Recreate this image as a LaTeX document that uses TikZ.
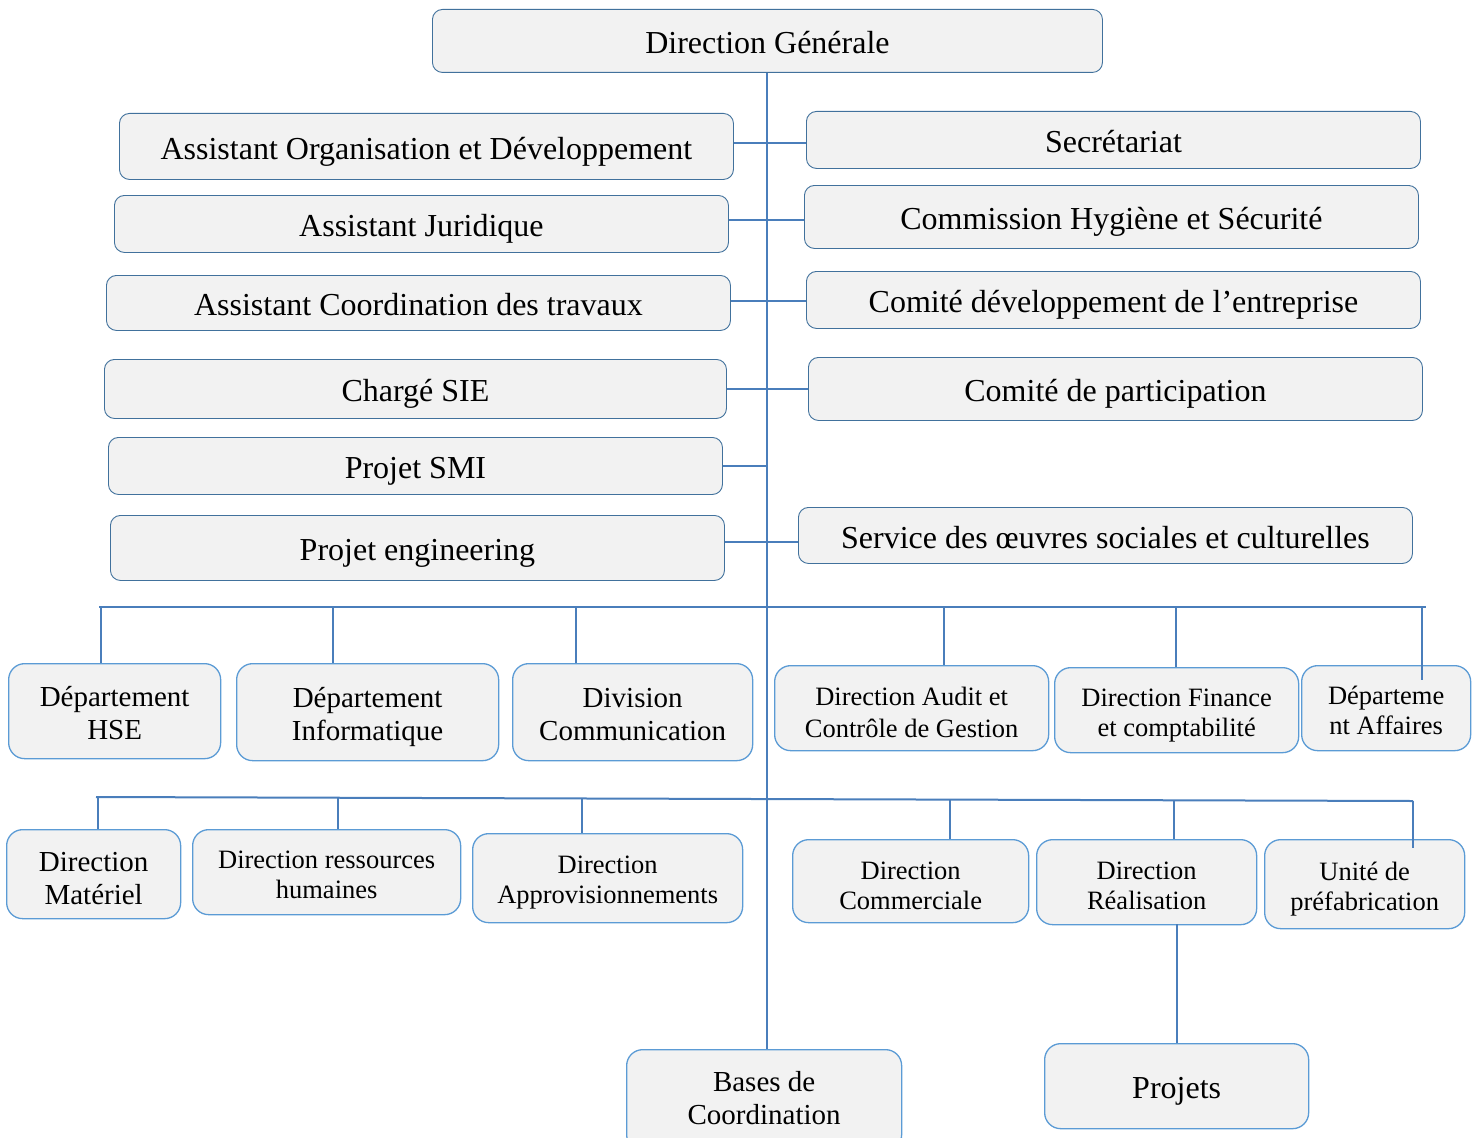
\documentclass[tikz,border=0pt]{standalone}
\usepackage{fontspec}
\setmainfont{Liberation Serif}
\usetikzlibrary{calc}
\definecolor{boxfill}{HTML}{F2F2F2}
\definecolor{topedge}{HTML}{41719C}
\definecolor{lowedge}{HTML}{5B9BD5}
\definecolor{wirecol}{HTML}{4A7EBB}

% \orgbox{name}{style}{left}{top}{right}{bottom}{text}
\newcommand\orgbox[7]{%
  \node[#2, minimum width={#5pt-#3pt}, minimum height={#6pt-#4pt}] (#1) at (#3,#4) {#7};}

\begin{document}
\begin{tikzpicture}[x=1pt,y=-1pt,
  unit/.style={draw, fill=boxfill, inner sep=0pt, anchor=north west, align=center, text=black},
  topbox/.style={unit, draw=topedge, line width=0.9pt, rounded corners=10pt,
    font=\fontsize{32}{38}\selectfont, text height=26pt, text depth=0pt},
  lowbox/.style={unit, draw=lowedge, line width=1.3pt, rounded corners=16pt,
    font=\fontsize{26.5}{30}\selectfont, text height=53pt, text depth=0pt},
  bigbox/.style={lowbox, font=\fontsize{29}{33}\selectfont, text height=57pt},
  wire/.style={draw=wirecol, line width=2pt}]

\useasboundingbox (0,0) rectangle (1474,1137);
\clip (0,0) rectangle (1474,1137);

% General management
\orgbox{dg}{topbox}{432}{9}{1102}{72}{Direction Générale}

% Staff positions, left side
\orgbox{aod}{topbox}{119}{113}{733}{179}{Assistant Organisation et Développement}
\orgbox{aj}{topbox}{114}{195}{728}{252}{Assistant Juridique}
\orgbox{act}{topbox}{106}{275}{730}{330}{Assistant Coordination des travaux}
\orgbox{sie}{topbox}{104}{359}{726}{418}{Chargé SIE}
\orgbox{smi}{topbox}{108}{437}{722}{494}{Projet SMI}
\orgbox{pe}{topbox}{110}{515}{724}{580}{Projet engineering}

% Staff positions, right side
\orgbox{sec}{topbox}{806}{111}{1420}{168}{Secrétariat}
\orgbox{chs}{topbox}{804}{185}{1418}{248}{Commission Hygiène et Sécurité}
\orgbox{cde}{topbox}{806}{271}{1420}{328}{Comité développement de l’entreprise}
\orgbox{cp}{topbox}{808}{357}{1422}{420}{Comité de participation}
\orgbox{sosc}{topbox}{798}{507}{1412}{563}{Service des œuvres sociales et culturelles}

% First row of departments
\orgbox{dhse}{bigbox}{8}{663}{220}{758}{Département\\HSE}
\orgbox{dinf}{bigbox}{236}{663}{498}{760}{Département\\Informatique}
\orgbox{dcom}{bigbox}{512}{663}{752}{760}{Division\\Communication}
\orgbox{dacg}{lowbox, font=\fontsize{26.5}{32}\selectfont, text height=59pt}{774}{665}{1048}{750}{Direction Audit et\\Contrôle de Gestion}
\orgbox{dfc}{lowbox}{1054}{667}{1298}{752}{Direction Finance\\et comptabilité}
\orgbox{daff}{lowbox}{1301}{665}{1470}{750}{Départeme\\nt Affaires}

% Second row of directions
\orgbox{dmat}{bigbox, text height=61pt}{6}{829}{180}{918}{Direction\\Matériel}
\orgbox{drh}{lowbox}{192}{829}{460}{914}{Direction ressources\\humaines}
\orgbox{dapp}{lowbox, text height=51pt}{472}{833}{742}{922}{Direction\\Approvisionnements}
\orgbox{dcml}{lowbox, text height=57pt}{792}{839}{1028}{922}{Direction\\Commerciale}
\orgbox{dreal}{lowbox, text height=55pt}{1036}{839}{1256}{924}{Direction\\Réalisation}
\orgbox{upre}{lowbox, text height=52pt}{1264}{839}{1464}{928}{Unité de\\préfabrication}

% Bottom level
\orgbox{bases}{bigbox, text height=49pt}{626}{1049}{901}{1150}{Bases de\\Coordination}
\orgbox{proj}{lowbox, font=\fontsize{32}{38}\selectfont, text height=25pt}{1044}{1043}{1308}{1128}{Projets}

% Main spine
\draw[wire] (dg.south) -- (dg.south |- bases.north);

% Staff links, drawn at mid height between the paired boxes
\foreach \l/\r in {aod/sec, aj/chs, act/cde, sie/cp, pe/sosc}{
  \coordinate (m-\l) at ($(\l.east)!0.5!(\r.west)$);
  \draw[wire] (\l.east |- m-\l) -- (\r.west |- m-\l);
}
\draw[wire] (smi.east) -- (smi.east -| dg.south);

% First bus and its drops
\coordinate (b1l) at (99,607);
\coordinate (b1r) at (1426,607);
\draw[wire] (b1l) -- (b1r);
\foreach \x/\n in {101/dhse, 333/dinf, 576/dcom, 944/dacg, 1176/dfc}{
  \coordinate (d1-\n) at (\x,607);
  \draw[wire] (d1-\n) -- (d1-\n |- \n.north);
}
\coordinate (d1-daff) at (1422,607);
\draw[wire] (d1-daff) -- ($(d1-daff |- daff.north)+(0,15)$);

% Second bus and its drops
\coordinate (b2l) at (96,797);
\coordinate (b2r) at (1413,801);
\draw[wire] (b2l) -- (b2r);
\foreach \x/\y/\n in {98/797/dmat, 338/798/drh, 582/798/dapp, 950/800/dcml, 1174/800/dreal}{
  \coordinate (d2-\n) at (\x,\y);
  \draw[wire] (d2-\n) -- (d2-\n |- \n.north);
}
\coordinate (d2-upre) at (1413,801);
\draw[wire] (d2-upre) -- ($(d2-upre |- upre.north)+(0,9)$);

% Realisation to projects
\coordinate (rp) at (1177,924);
\draw[wire] (rp) -- (rp |- proj.north);
\end{tikzpicture}
\end{document}
